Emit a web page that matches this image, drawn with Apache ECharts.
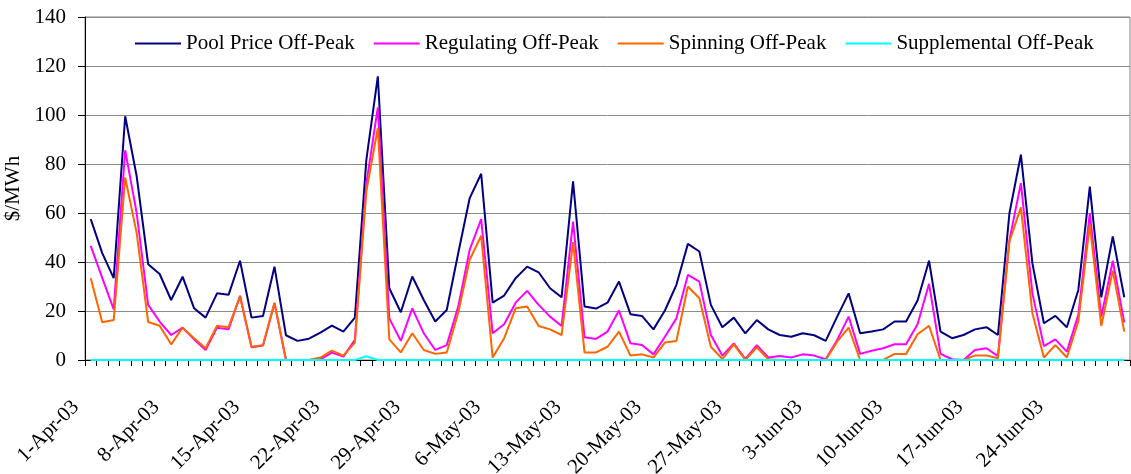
<!DOCTYPE html>
<html>
<head>
<meta charset="utf-8">
<script src="https://cdn.jsdelivr.net/npm/echarts@6/dist/echarts.min.js"></script>
<style>
html,body{margin:0;padding:0;background:#fff;}
#chart{width:1131px;height:474px;}
</style>
</head>
<body>
<div id="chart"></div>
<script>
var categories = [
'1-Apr-03','2-Apr-03','3-Apr-03','4-Apr-03','5-Apr-03','6-Apr-03','7-Apr-03','8-Apr-03','9-Apr-03','10-Apr-03',
'11-Apr-03','12-Apr-03','13-Apr-03','14-Apr-03','15-Apr-03','16-Apr-03','17-Apr-03','18-Apr-03','19-Apr-03','20-Apr-03',
'21-Apr-03','22-Apr-03','23-Apr-03','24-Apr-03','25-Apr-03','26-Apr-03','27-Apr-03','28-Apr-03','29-Apr-03','30-Apr-03',
'1-May-03','2-May-03','3-May-03','4-May-03','5-May-03','6-May-03','7-May-03','8-May-03','9-May-03','10-May-03',
'11-May-03','12-May-03','13-May-03','14-May-03','15-May-03','16-May-03','17-May-03','18-May-03','19-May-03','20-May-03',
'21-May-03','22-May-03','23-May-03','24-May-03','25-May-03','26-May-03','27-May-03','28-May-03','29-May-03','30-May-03',
'31-May-03','1-Jun-03','2-Jun-03','3-Jun-03','4-Jun-03','5-Jun-03','6-Jun-03','7-Jun-03','8-Jun-03','9-Jun-03',
'10-Jun-03','11-Jun-03','12-Jun-03','13-Jun-03','14-Jun-03','15-Jun-03','16-Jun-03','17-Jun-03','18-Jun-03','19-Jun-03',
'20-Jun-03','21-Jun-03','22-Jun-03','23-Jun-03','24-Jun-03','25-Jun-03','26-Jun-03','27-Jun-03','28-Jun-03','29-Jun-03',
'30-Jun-03'
];

var poolPrice = [
57.5,43.6,33.4,99.5,75,39.1,35.1,24.5,34,21.1,
17.3,27.2,26.6,40.5,17.3,18,38.1,10.1,7.8,8.7,
11.2,14,11.6,17.3,81.7,115.8,29.3,19.5,34.1,24.5,
15.7,20.4,43.6,66.1,76,23.4,26.3,33.4,38.1,35.8,
29.3,25.6,72.9,21.8,21,23.4,32,18.7,18,12.5,
20.2,30.7,47.4,44.3,22.5,13.4,17.3,10.9,16.3,12.5,
10.2,9.5,10.9,10.1,7.8,17.7,27.2,10.9,11.6,12.5,
15.7,15.7,24.3,40.5,11.6,8.9,10.2,12.5,13.4,10.2,
59.9,83.8,39.5,15,18,13.4,28.6,70.8,25.6,50.4,
25.6
];

var regulating = [
46.6,33.5,20.7,85.6,60,22.5,15.7,10.2,13.2,8.4,
4.1,13.2,12.5,26.2,5.2,5.9,23.2,0,0,0,
0.3,3,1.4,8.2,72,103.1,17,7.8,21.1,10.9,
4.1,6.1,21.8,45,57.5,10.9,14.6,23.4,28.2,22.5,
17.7,13.9,56.5,9.3,8.6,11.6,20.2,6.8,6.1,2.3,
9.5,17,34.7,32,10.2,1.8,6.8,0.4,6.1,1,
1.6,1,2.3,1.8,0.3,8.2,17.7,2.5,3.8,4.8,
6.4,6.4,14.6,31.1,2.5,0.3,0,4.1,4.8,1.6,
49,72.2,27.2,5.7,8.4,3.4,18.4,59.9,17.7,40.5,
15.3
];

var spinning = [
33.4,15.4,16.3,74.5,51.8,15.5,14,6.4,13.2,8.9,
4.8,14,13.4,25.9,5.4,6,23.4,0,0,0,
1,3.8,1.8,7.1,69,94.7,8.4,3.1,10.9,4.1,
2.5,3.1,19.3,40.9,50.7,1,8.9,21.1,21.8,13.9,
12.5,10.2,48.1,3.1,3.1,5.4,11.6,1.8,2.3,1,
7.1,7.8,30,25.2,5.4,0.4,6.4,0,5.2,0.3,
0,0,0,0,0,7.5,13.2,0,0,0,
2.5,2.5,10.5,14,0,0,0,1.8,1.8,0.7,
48.4,62.3,19.1,1,6.1,1,15.7,55.4,13.9,36.5,
11.6
];

var supplemental = [
0,0,0,0,0,0,0,0,0,0,
0,0,0,0,0,0,0,0,0,0,
0,0,0,0,1.5,0,0,0,0,0,
0,0,0,0,0,0,0,0,0,0,
0,0,0,0,0,0,0,0,0,0,
0,0,0,0,0,0,0,0,0,0,
0,0,0,0,0,0,0,0,0,0,
0,0,0,0,0,0,0,0,0,0,
0,0,0,0,0,0,0,0,0,0,
0
];

var seriesNames = ['Pool Price Off-Peak','Regulating Off-Peak','Spinning Off-Peak','Supplemental Off-Peak'];
var seriesColors = ['#000080','#FF00FF','#FF6600','#00FFFF'];
var seriesData = [poolPrice, regulating, spinning, supplemental];

var FONT = '"Liberation Serif", "Times New Roman", serif';

var chart = echarts.init(document.getElementById('chart'), null, {renderer:'canvas'});
chart.setOption({
  animation: false,
  backgroundColor: '#ffffff',
  grid: {left: 85, right: 1, top: 17, bottom: 114, containLabel: false, outerBoundsMode: 'none',
         show: true, borderColor: '#808080', borderWidth: 1, backgroundColor: 'transparent'},
  legend: {
    left: 130, top: 28,
    itemWidth: 46, itemHeight: 2, itemGap: 19,
    icon: 'rect',
    textStyle: {fontFamily: FONT, fontSize: 21, color: '#000'},
    data: seriesNames
  },
  xAxis: {
    type: 'category',
    data: categories,
    boundaryGap: true,
    axisLine: {show: true, lineStyle: {color: '#000', width: 1}},
    axisTick: {show: true, interval: 0, alignWithLabel: false, length: 6, lineStyle: {color: '#000'}},
    axisLabel: {interval: 6, rotate: 45, margin: 29, padding: [0, 21, 0, 0], fontFamily: FONT, fontSize: 21, color: '#000'},
    splitLine: {show: false}
  },
  yAxis: {
    type: 'value',
    min: 0, max: 140, interval: 20,
    name: '$/MWh',
    nameLocation: 'middle',
    nameGap: 58,
    nameTextStyle: {fontFamily: FONT, fontSize: 21, color: '#000'},
    axisLine: {show: true, lineStyle: {color: '#000', width: 1}},
    axisTick: {show: true, length: 7, lineStyle: {color: '#000'}},
    axisLabel: {margin: 19, fontFamily: FONT, fontSize: 21, color: '#000'},
    splitLine: {show: true, lineStyle: {color: '#8c8c8c', width: 1}}
  },
  series: seriesNames.map(function(n, k){
    return {
      name: n, type: 'line', data: seriesData[k],
      symbol: 'none', smooth: false,
      itemStyle: {color: seriesColors[k]},
      lineStyle: {color: seriesColors[k], width: 2},
      z: 2 + k
    };
  })
});
</script>
</body>
</html>
